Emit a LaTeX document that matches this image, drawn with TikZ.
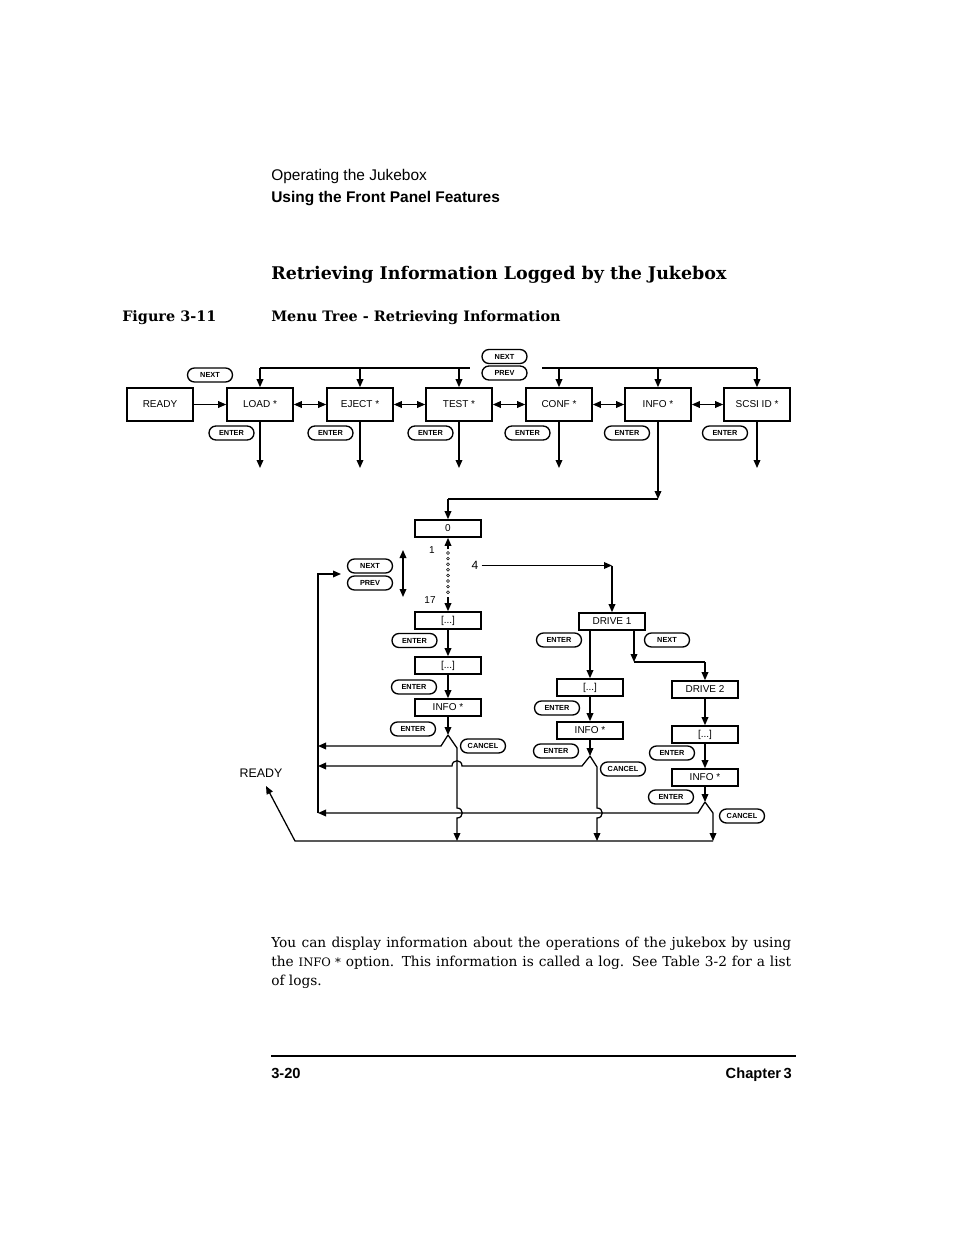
\documentclass[tikz,border=0pt]{standalone}
\usepackage{fontspec}
\newfontfamily\arial{Liberation Sans}
\newfontfamily\serif{DejaVu Serif}
\usetikzlibrary{arrows.meta}
\begin{document}
\begin{tikzpicture}[x=0.75pt,y=-0.75pt,
  box/.style={draw,line width=1.25pt,minimum width=49.5pt,minimum height=24.75pt,inner sep=0pt,font=\arial\fontsize{7.5}{9}\selectfont},
  sbox/.style={box,minimum height=12.75pt},
  pill/.style={draw,line width=1pt,rounded corners=5.2pt,minimum width=33.75pt,minimum height=10.5pt,inner sep=0pt,font=\arial\bfseries\fontsize{5.5}{6}\selectfont},
  ln/.style={line width=0.95pt},
  arr/.style={ln,-{Triangle[length=6pt,width=5pt]}},
  darr/.style={ln,{Triangle[length=6pt,width=5pt]}-{Triangle[length=6pt,width=5pt]}},
  lbl/.style={inner sep=0pt,font=\arial\fontsize{7.5}{9}\selectfont},
  dotc/.style={circle,draw,line width=0.4pt,inner sep=0pt,minimum size=2.2pt},
  txt/.style={anchor=base west,inner sep=0pt}
]
\path[use as bounding box] (0,0) rectangle (954,1235);

% ---------- page texts ----------
\node[txt,font=\arial\fontsize{11.6}{14}\selectfont] (h1) at (271,180) {Operating the Jukebox};
\node[txt,font=\arial\bfseries\fontsize{11.6}{14}\selectfont] (h2) at (271,202) {Using the Front Panel Features};
\node[txt,font=\serif\bfseries\fontsize{13.1}{16}\selectfont] (h3) at (271,279) {Retrieving Information Logged by the Jukebox};
\node[txt,font=\serif\bfseries\fontsize{10.8}{13}\selectfont] (fig) at (122,321) {Figure 3-11};
\node[txt,font=\serif\bfseries\fontsize{10.8}{13}\selectfont] (cap) at (271,321) {Menu Tree - Retrieving Information};

\node[txt,font=\serif\fontsize{10.3}{13}\selectfont] (b1) at (271,947) {\makebox[390pt][s]{You can display information about the operations of the jukebox by using}};
\node[txt,font=\serif\fontsize{10.3}{13}\selectfont] (b2) at (271,966) {\makebox[390pt][s]{the {\fontsize{8.7}{11}\selectfont INFO *} option. This information is called a log. See Table 3-2 for a list}};
\node[txt,font=\serif\fontsize{10.3}{13}\selectfont] (b3) at (271,985) {of logs.};

\coordinate (rl) at (271,1056);
\coordinate (rr) at (796,1056);
\draw[line width=1.6pt] (rl) -- (rr);
\node[txt,font=\arial\bfseries\fontsize{11}{13}\selectfont] (pg) at (271,1078) {3-20};
\node[anchor=base east,inner sep=0pt,font=\arial\bfseries\fontsize{11}{13}\selectfont] (ch) at (792,1078) {Chapter\,3};

% ---------- top row ----------
\node[box] (ready) at (160,404.5) {READY};
\node[box] (load)  at (260,404.5) {LOAD *};
\node[box] (eject) at (360,404.5) {EJECT *};
\node[box] (test)  at (459,404.5) {TEST *};
\node[box] (conf)  at (559,404.5) {CONF *};
\node[box] (info)  at (658,404.5) {INFO *};
\node[box] (scsi)  at (757,404.5) {SCSI ID *};

\node[pill] (tnext) at (210,375) {NEXT};
\node[pill] (next1) at (504.5,356.5) {NEXT};
\node[pill] (prev1) at (504.5,373) {PREV};
\node[pill] (e1) at (231.5,433) {ENTER};
\node[pill] (e2) at (330.5,433) {ENTER};
\node[pill] (e3) at (430.5,433) {ENTER};
\node[pill] (e4) at (527.5,433) {ENTER};
\node[pill] (e5) at (627,433) {ENTER};
\node[pill] (e6) at (725,433) {ENTER};

\draw[arr] (ready) -- (load);
\draw[darr] (load) -- (eject);
\draw[darr] (eject) -- (test);
\draw[darr] (test) -- (conf);
\draw[darr] (conf) -- (info);
\draw[darr] (info) -- (scsi);

\coordinate (tl) at (260,368);
\coordinate (tlend) at (470,368);
\coordinate (tr) at (542,368);
\coordinate (trend) at (757,368);
\draw[ln] (tl) -- (tlend);
\draw[ln] (tr) -- (trend);
\draw[arr] (tl) -- (load.north);
\draw[arr] (eject.north |- tl) -- (eject.north);
\draw[arr] (test.north |- tl) -- (test.north);
\draw[arr] (conf.north |- tr) -- (conf.north);
\draw[arr] (info.north |- tr) -- (info.north);
\draw[arr] (trend) -- (scsi.north);

\coordinate (dl) at (260,468);
\draw[arr] (load.south) -- (dl);
\draw[arr] (eject.south) -- (eject.south |- dl);
\draw[arr] (test.south) -- (test.south |- dl);
\draw[arr] (conf.south) -- (conf.south |- dl);
\draw[arr] (scsi.south) -- (scsi.south |- dl);

% ---------- info subtree ----------
\node[sbox] (zero) at (448,528.5) {0};
\coordinate (ic) at (658,499);
\coordinate (ic2) at (448,499);
\draw[arr] (info.south) -- (ic);
\draw[ln] (ic) -- (ic2);
\draw[arr] (ic2) -- (zero.north);

\coordinate (up1) at (448,549);
\draw[arr] (up1) -- (zero.south);
\foreach \k in {0,...,7} \node[dotc] at (448,553+5.6*\k) {};
\node[lbl] (n1) at (432,550) {1};
\node[lbl] (n17) at (430,600) {17};
\node[sbox] (a1) at (448,620.5) {[...]};
\coordinate (dn1) at (448,597);
\draw[arr] (dn1) -- (a1.north);

\node[pill] (lnext) at (370,566) {NEXT};
\node[pill] (lprev) at (370,583) {PREV};
\coordinate (da) at (403,550);
\coordinate (db) at (403,597);
\draw[darr] (da) -- (db);

\node[sbox] (a2) at (448,665.5) {[...]};
\node[sbox] (a3) at (448,707.5) {INFO *};
\node[pill] (ae1) at (414.5,640.5) {ENTER};
\node[pill] (ae2) at (414,687) {ENTER};
\node[pill] (ae3) at (413,729) {ENTER};
\node[pill] (ac) at (483,746) {CANCEL};
\draw[arr] (a1) -- (a2);
\draw[arr] (a2) -- (a3);
\coordinate (ap1) at (448,735);
\draw[arr] (a3.south) -- (ap1);

% drive branch
\node[font=\arial\fontsize{9}{11}\selectfont,inner sep=0pt] (four) at (475,565.5) {4};
\node[sbox] (drv1) at (612,621.5) {DRIVE 1};
\coordinate (fc) at (612,565.5);
\draw[arr] (four.east) ++(3,0) -- (fc);
\draw[arr] (fc) -- (drv1.north);
\node[pill] (de1) at (559,640) {ENTER};
\node[pill] (dn) at (667,640) {NEXT};

\node[sbox] (b1d) at (590,687.5) {[...]};
\node[sbox] (b2d) at (590,730.5) {INFO *};
\node[pill] (be1) at (557,708) {ENTER};
\node[pill] (be2) at (556,751) {ENTER};
\node[pill] (bc) at (623,769) {CANCEL};
\draw[arr] (b1d.north |- drv1.south) -- (b1d.north);
\draw[arr] (b1d) -- (b2d);
\coordinate (ap2) at (590,756);
\draw[arr] (b2d.south) -- (ap2);

\coordinate (nc1) at (634,662);
\coordinate (nc2) at (705,662);
\node[sbox] (drv2) at (705,689.5) {DRIVE 2};
\draw[arr] (nc1 |- drv1.south) -- (nc1);
\draw[ln] (nc1) -- (nc2);
\draw[arr] (nc2) -- (drv2.north);
\node[sbox] (c1d) at (705,734.5) {[...]};
\node[sbox] (c2d) at (705,777.5) {INFO *};
\node[pill] (ce1) at (672,753) {ENTER};
\node[pill] (ce2) at (671,797) {ENTER};
\node[pill] (cc) at (742,816) {CANCEL};
\draw[arr] (drv2) -- (c1d);
\draw[arr] (c1d) -- (c2d);
\coordinate (ap3) at (705,802);
\draw[arr] (c2d.south) -- (ap3);

% ---------- return lines ----------
\coordinate (lx) at (318,813);
\coordinate (lxt) at (318,574);
\coordinate (lxa) at (341,574);
\draw[arr] (lx) -- (lxt) -- (lxa);

% left column switch
\draw[arr] (ap1) -- (441,746) -- (318,746);
\coordinate (bot1) at (457,841);
\draw[arr] (ap1) -- (457,748) -- (457,808) .. controls (464,808) and (464,818) .. (457,818) -- (bot1);

% drive 1 switch
\draw[arr] (ap2) -- (582,766) -- (462,766) .. controls (462,759) and (452,759) .. (452,766) -- (318,766);
\coordinate (bot2) at (597,841);
\draw[arr] (ap2) -- (597,767) -- (597,808) .. controls (604,808) and (604,818) .. (597,818) -- (bot2);

% drive 2 switch
\draw[arr] (ap3) -- (698,813) -- (318,813);
\coordinate (bot3) at (713,841);
\draw[arr] (ap3) -- (713,813) -- (bot3);

% bottom line to READY
\node[font=\arial\fontsize{9.3}{11}\selectfont,inner sep=0pt] (rdy) at (261,773) {READY};
\coordinate (bl) at (295,841);
\coordinate (rtip) at (266,786);
\draw[arr] (bot3) -- (bl) -- (rtip);

\end{tikzpicture}
\end{document}
